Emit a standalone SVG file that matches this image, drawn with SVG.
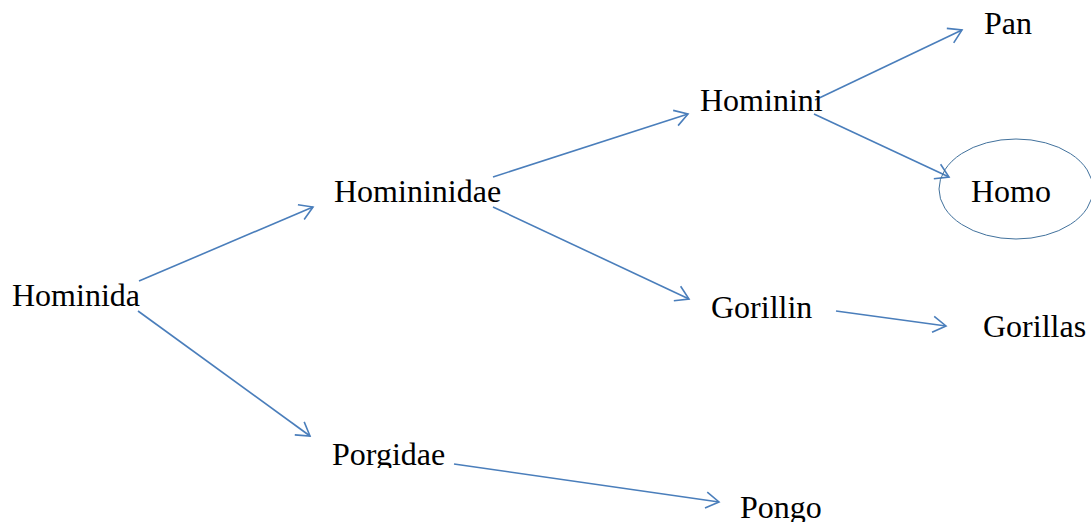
<svg xmlns="http://www.w3.org/2000/svg" width="1091" height="522" viewBox="0 0 1091 522">
<style>
.t{font-family:'Liberation Serif','DejaVu Serif','Times New Roman',serif;font-size:32px;fill:#000}
.c{fill:none;stroke:#4a7ebb;stroke-width:1.6;marker-end:url(#ah)}
</style>
<defs>
<marker id="ah" markerUnits="userSpaceOnUse" markerWidth="30" markerHeight="30" refX="15" refY="15" orient="auto" viewBox="0 0 30 30" overflow="visible">
<path d="M2,7 L15,15 L2,23" fill="none" stroke="#4a7ebb" stroke-width="1.6"/>
</marker>
<clipPath id="cp"><rect x="300" y="420" width="200" height="48"/></clipPath>
</defs>
<rect width="1091" height="522" fill="#fff"/>
<g id="connectors">
<line class="c" x1="139" y1="281" x2="313" y2="207"/>
<line class="c" x1="138" y1="311" x2="310" y2="436"/>
<line class="c" x1="493" y1="177" x2="688" y2="114"/>
<line class="c" x1="493" y1="207" x2="689" y2="299"/>
<line class="c" x1="815" y1="100" x2="962" y2="30"/>
<line class="c" x1="814" y1="114" x2="949" y2="177"/>
<line class="c" x1="836" y1="311" x2="946" y2="326"/>
<line class="c" x1="454" y1="464" x2="719" y2="502"/>
</g>
<g id="hominida"><text class="t" x="12" y="306">Hominida</text></g>
<g id="homininidae"><text class="t" x="334" y="202">Homininidae</text></g>
<g id="porgidae"><text class="t" x="332" y="465" clip-path="url(#cp)">Porgidae</text></g>
<g id="hominini"><text class="t" x="700" y="111">Hominini</text></g>
<g id="gorillin"><text class="t" x="711" y="318">Gorillin</text></g>
<g id="pan"><text class="t" x="984" y="34">Pan</text></g>
<g id="homo"><ellipse cx="1016" cy="189" rx="77" ry="50" fill="none" stroke="#41719c" stroke-width="1"/><text class="t" x="971" y="202">Homo</text></g>
<g id="gorillas"><text class="t" x="983" y="337">Gorillas</text></g>
<g id="pongo"><text class="t" x="740" y="518">Pongo</text></g>
</svg>
